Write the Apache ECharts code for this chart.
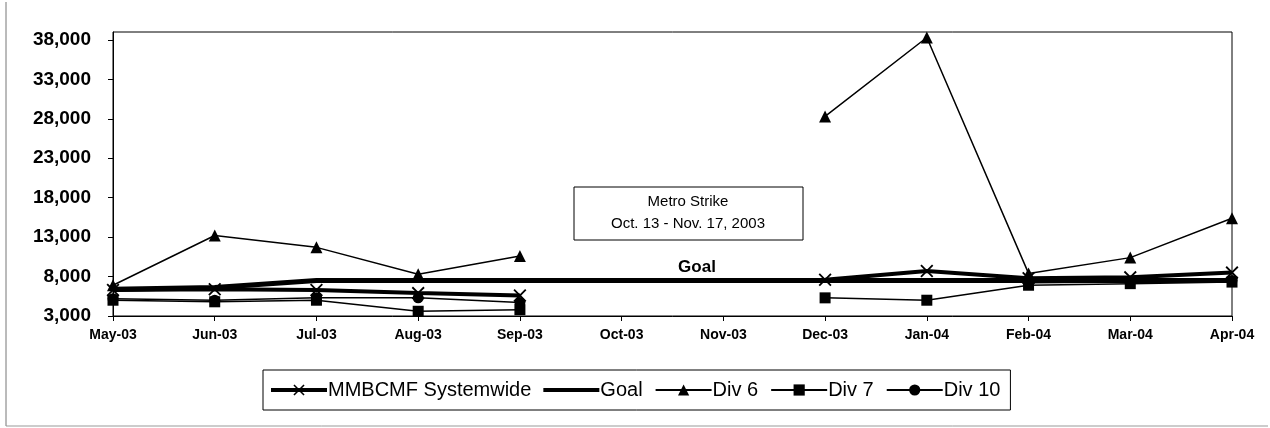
<!DOCTYPE html>
<html><head><meta charset="utf-8">
<script src="https://cdn.jsdelivr.net/npm/echarts@6/dist/echarts.min.js"></script>
<style>html,body{margin:0;padding:0;background:#fff}#c{width:1270px;height:428px}</style>
</head><body><div id="c"></div>
<script>
const categories = ['May-03','Jun-03','Jul-03','Aug-03','Sep-03','Oct-03','Nov-03','Dec-03','Jan-04','Feb-04','Mar-04','Apr-04'];
const systemwide = [6300, 6400, 6300, 5900, 5600, null, null, 7600, 8700, 7800, 7900, 8500];
const goal       = [6400, 6600, 7500, 7500, 7500, 7500, 7500, 7500, 7500, 7500, 7500, 7500];
const div6       = [6900, 13200, 11700, 8300, 10600, null, null, 28300, 38300, 8400, 10400, 15400];
const div7       = [5000, 4800, 5000, 3600, 3800, null, null, 5300, 5000, 6900, 7100, 7300];
const div10      = [5200, 5000, 5300, 5300, 4700, null, null, null, null, 7200, 7300, 7500];
const yTicks = {min: 3000, max: 39000, interval: 5000};

const crossPath = 'path://M0,1L1,0L5,4L9,0L10,1L6,5L10,9L9,10L5,6L1,10L0,9L4,5Z';
const goalIcon = 'path://M0,0L56,0L56,0.01L0,0.01Z M0,5L56,5L56,9L0,9Z M0,13.99L56,13.99L56,14L0,14Z';
const FONT = '"Liberation Sans", Arial, sans-serif';

const chart = echarts.init(document.getElementById('c'), null, {renderer: 'canvas'});
function thinSeries(name, data, symbol, size) {
  return {name, type: 'line', data, symbol, symbolSize: size, connectNulls: false,
    lineStyle: {color: '#000', width: 1.5}, itemStyle: {color: '#000'}, z: 3, animation: false};
}
chart.setOption({
  animation: false,
  textStyle: {fontFamily: FONT, color: '#000'},
  grid: {left: 113, right: 38, top: 32, bottom: 112, show: true, borderColor: '#000', borderWidth: 1},
  xAxis: {type: 'category', data: categories, boundaryGap: false,
    axisLine: {lineStyle: {color: '#000', width: 1}},
    axisTick: {show: true, inside: false, length: 5, alignWithLabel: true, lineStyle: {color: '#000'}},
    axisLabel: {fontFamily: FONT, fontWeight: 'bold', fontSize: 14, color: '#000', margin: 12, interval: 0},
    splitLine: {show: false}},
  yAxis: {type: 'value', min: yTicks.min, max: yTicks.max, interval: yTicks.interval,
    axisLine: {show: true, lineStyle: {color: '#000', width: 1}},
    axisTick: {show: true, length: 5, lineStyle: {color: '#000'}},
    axisLabel: {fontFamily: FONT, fontWeight: 'bold', fontSize: 19, color: '#000', margin: 22, showMaxLabel: false,
      formatter: v => v.toLocaleString('en-US')},
    splitLine: {show: false}},
  legend: {
    data: [
      {name: 'MMBCMF Systemwide', lineStyle: {width: 4}},
      {name: 'Goal', icon: goalIcon, itemStyle: {color: '#000'}},
      'Div 6', 'Div 7', 'Div 10'],
    left: 263, top: 370, orient: 'horizontal',
    borderColor: '#000', borderWidth: 1, padding: [10, 10, 10, 6], itemGap: 12,
    itemWidth: 56, itemHeight: 14,
    textStyle: {fontFamily: FONT, fontSize: 20, color: '#000', padding: [0, 0, 0, -4]}
  },
  graphic: [
    {type: 'rect', shape: {x: 574, y: 187, width: 229, height: 53}, style: {fill: '#fff', stroke: '#000', lineWidth: 1}, z: 10},
    {type: 'text', x: 688, y: 202, style: {text: 'Metro Strike', font: '15px ' + FONT, fill: '#000', textAlign: 'center', textVerticalAlign: 'middle'}, z: 11},
    {type: 'text', x: 688, y: 224, style: {text: 'Oct. 13 - Nov. 17, 2003', font: '15px ' + FONT, fill: '#000', textAlign: 'center', textVerticalAlign: 'middle'}, z: 11},
    {type: 'text', x: 697, y: 267, style: {text: 'Goal', font: 'bold 17px ' + FONT, fill: '#000', textAlign: 'center', textVerticalAlign: 'middle'}, z: 11},
    {type: 'line', shape: {x1: 6, y1: 2, x2: 6, y2: 426}, style: {stroke: '#777', lineWidth: 1}},
    {type: 'line', shape: {x1: 6, y1: 426, x2: 1268, y2: 426}, style: {stroke: '#999', lineWidth: 1}}
  ],
  series: [
    {name: 'MMBCMF Systemwide', type: 'line', data: systemwide, symbol: crossPath, symbolSize: 13,
      lineStyle: {color: '#000', width: 4}, itemStyle: {color: '#000'}, z: 4},
    {name: 'Goal', type: 'line', data: goal, symbol: 'none', showSymbol: false,
      lineStyle: {color: '#000', width: 5}, itemStyle: {color: '#000'}, z: 2},
    thinSeries('Div 6', div6, 'triangle', 12),
    thinSeries('Div 7', div7, 'rect', 11),
    thinSeries('Div 10', div10, 'circle', 11)
  ]
});
</script></body></html>
